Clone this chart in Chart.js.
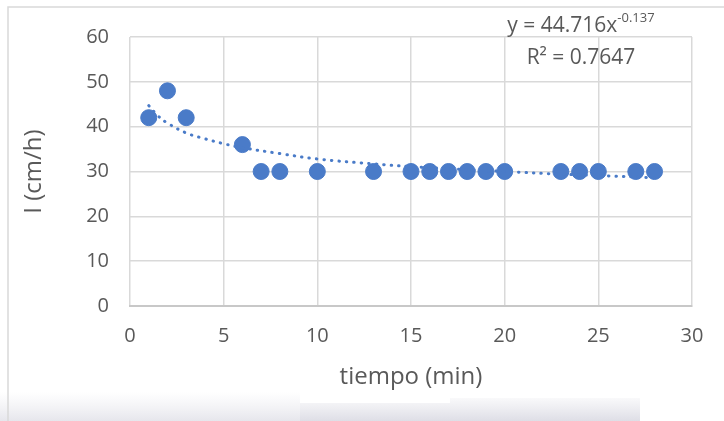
<!DOCTYPE html>
<html>
<head>
<meta charset="utf-8">
<script src="https://cdn.jsdelivr.net/npm/chart.js@4/dist/chart.umd.min.js"></script>
<style>
  html, body { margin: 0; padding: 0; background: #ffffff; }
  #wrap { width: 724px; height: 421px; position: relative; }
</style>
</head>
<body>
<div id="wrap"><canvas id="chart" width="724" height="421"></canvas></div>
<script>
// measured points
const tiempo = [1, 2, 3, 6, 7, 8, 10, 13, 15, 16, 17, 18, 19, 20, 23, 24, 25, 27, 28];
const infiltracion = [42, 48, 42, 36, 30, 30, 30, 30, 30, 30, 30, 30, 30, 30, 30, 30, 30, 30, 30];

// dotted power trendline
const trendX = [1, 1.5, 2, 3, 4, 5, 6, 8, 10, 13, 15, 18, 20, 23, 25, 28];
const trendY = [44.7, 42.4, 40.8, 38.6, 37.3, 36.2, 35.3, 34.0, 32.8, 31.7, 31.1, 30.4, 30.0, 29.4, 29.1, 28.6];

const xTicks = [0, 5, 10, 15, 20, 25, 30];
const yTicks = [0, 10, 20, 30, 40, 50, 60];

const xTitle = "tiempo (min)";
const yTitle = "I (cm/h)";
const eqText = "y = 44.716x";
const eqExp = "-0.137";
const r2Text = "R\u00b2 = 0.7647";

const blue = "#4a7bc8";
const grey = "#595959";
const fontFam = "'Open Sans', 'Noto Sans', sans-serif";

const frame = {
  id: "frame",
  beforeDraw(chart) {
    const c = chart.ctx;
    c.save();
    c.fillStyle = "#ffffff";
    c.fillRect(0, 0, chart.width, chart.height);
    // faded shapes at the bottom
    let g = c.createLinearGradient(0, 392, 0, 421);
    g.addColorStop(0, "rgba(235,235,240,0)");
    g.addColorStop(1, "rgba(230,230,236,1)");
    c.fillStyle = g;
    c.fillRect(0, 392, 300, 29);
    g = c.createLinearGradient(0, 398, 0, 421);
    g.addColorStop(0, "rgba(225,225,232,0.2)");
    g.addColorStop(1, "rgba(222,222,230,1)");
    c.fillStyle = g;
    c.fillRect(300, 403, 150, 18);
    c.fillRect(450, 398, 190, 23);
    c.strokeStyle = "#d9d9d9";
    c.lineWidth = 1.5;
    c.beginPath();
    c.moveTo(8, 421);
    c.lineTo(8, 7);
    c.lineTo(724, 7);
    c.stroke();
    c.restore();
  },
  afterDraw(chart) {
    const c = chart.ctx;
    const a = chart.chartArea;
    c.save();
    c.fillStyle = grey;
    c.textBaseline = "alphabetic";
    c.font = "21px " + fontFam;
    const w = c.measureText(eqText).width;
    c.font = "13px " + fontFam;
    const we = c.measureText(eqExp).width;
    const x0 = 581 - (w + we) / 2;
    c.font = "21px " + fontFam;
    c.textAlign = "left";
    c.fillText(eqText, x0, 32);
    c.font = "13px " + fontFam;
    c.fillText(eqExp, x0 + w, 22);
    c.font = "21px " + fontFam;
    c.textAlign = "center";
    c.fillText(r2Text, 581, 64);
    // axis titles
    c.font = "24px " + fontFam;
    c.textBaseline = "middle";
    c.fillText(xTitle, (a.left + a.right) / 2, 377);
    c.translate(34, (a.top + a.bottom) / 2);
    c.rotate(-Math.PI / 2);
    c.fillText(yTitle, 0, 0);
    c.restore();
  }
};

new Chart(document.getElementById("chart"), {
  type: "scatter",
  data: {
    datasets: [
      {
        label: "I",
        data: tiempo.map((t, i) => ({ x: t, y: infiltracion[i] })),
        backgroundColor: blue,
        borderColor: blue,
        pointRadius: 8,
        pointHoverRadius: 8,
        order: 1
      },
      {
        label: "Tendencia",
        type: "line",
        data: trendX.map((t, i) => ({ x: t, y: trendY[i] })),
        borderColor: blue,
        borderWidth: 3,
        borderDash: [0.5, 7],
        borderCapStyle: "round",
        pointRadius: 0,
        tension: 0.4,
        fill: false,
        order: 0
      }
    ]
  },
  options: {
    responsive: false,
    animation: false,
    layout: { padding: { left: 0, right: 32, top: 37, bottom: 0 } },
    plugins: {
      legend: { display: false },
      tooltip: { enabled: false }
    },
    scales: {
      x: {
        type: "linear",
        min: 0,
        max: 30,
        afterBuildTicks: (s) => { s.ticks = xTicks.map(v => ({ value: v })); },
        afterFit: (s) => { s.height = 115; },
        grid: { color: "#d9d9d9", lineWidth: 1.5, drawTicks: false },
        border: { color: "#c8c8c8", width: 2 },
        ticks: { color: grey, padding: 18, font: { family: fontFam, size: 20 } },
        title: { display: false }
      },
      y: {
        type: "linear",
        min: 0,
        max: 60,
        afterBuildTicks: (s) => { s.ticks = yTicks.map(v => ({ value: v })); },
        afterFit: (s) => { s.width = 130; },
        grid: { color: "#d9d9d9", lineWidth: 1.5, drawTicks: false },
        border: { display: false },
        ticks: { color: grey, padding: 21, font: { family: fontFam, size: 20 } },
        title: { display: false }
      }
    }
  },
  plugins: [frame]
});
</script>
</body>
</html>
